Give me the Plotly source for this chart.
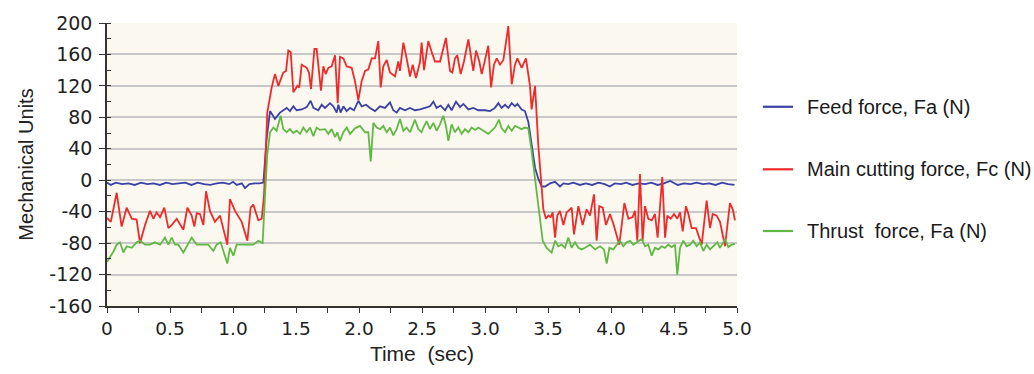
import plotly.graph_objects as go

# Force signals recorded during one cutting pass: (time in s, force in N)
FEED_FORCE = [
    (0.00, -3), (0.03, -6), (0.07, -3), (0.12, -5), (0.17, -4), (0.22, -6), (0.27, -3),
    (0.32, -5), (0.37, -4), (0.42, -6), (0.47, -3), (0.52, -5), (0.57, -4), (0.62, -3),
    (0.67, -6), (0.72, -3), (0.77, -5), (0.82, -6), (0.87, -4), (0.92, -3), (0.97, -5),
    (1.00, -2), (1.03, -6), (1.07, -4), (1.095, -10), (1.13, -5), (1.17, -4), (1.21, -4),
    (1.241, -3), (1.267, 53), (1.294, 88), (1.333, 78), (1.373, 86), (1.426, 92),
    (1.452, 88), (1.479, 94), (1.505, 89), (1.545, 90), (1.585, 93), (1.616, 101),
    (1.638, 92), (1.677, 89), (1.704, 96), (1.730, 92), (1.770, 98), (1.796, 94),
    (1.823, 86), (1.836, 96), (1.854, 86), (1.876, 94), (1.902, 88), (1.929, 92),
    (1.960, 89), (1.995, 101), (2.021, 94), (2.056, 96), (2.087, 92), (2.127, 88),
    (2.167, 94), (2.206, 92), (2.246, 99), (2.272, 89), (2.299, 86), (2.325, 92),
    (2.365, 89), (2.405, 92), (2.444, 89), (2.484, 90), (2.524, 92), (2.563, 94),
    (2.590, 100), (2.616, 92), (2.648, 95), (2.683, 89), (2.709, 96), (2.735, 89),
    (2.770, 100), (2.802, 93), (2.828, 97), (2.868, 90), (2.907, 92), (2.947, 89),
    (3.000, 89), (3.040, 88), (3.079, 92), (3.106, 98), (3.132, 92), (3.159, 96),
    (3.185, 92), (3.212, 98), (3.238, 94), (3.257, 97), (3.291, 90), (3.317, 88),
    (3.344, 74), (3.370, 45), (3.397, 16), (3.423, 2), (3.450, -8), (3.476, -8),
    (3.516, -4), (3.556, -2), (3.595, -8), (3.622, -4), (3.661, -5), (3.701, -3),
    (3.754, -6), (3.80, -4), (3.85, -6), (3.90, -3), (3.95, -5), (3.99, -8), (4.03, -4),
    (4.08, -5), (4.12, -3), (4.17, -6), (4.22, -4), (4.27, -5), (4.32, -3), (4.37, -6),
    (4.42, -4), (4.47, -1), (4.50, -3), (4.53, -6), (4.58, -4), (4.63, -5), (4.68, -3),
    (4.73, -5), (4.78, -4), (4.83, -6), (4.88, -3), (4.93, -5), (4.98, -6),
]

MAIN_CUTTING_FORCE = [
    (0.00, -48), (0.03, -53), (0.077, -16), (0.116, -59), (0.156, -35), (0.196, -49),
    (0.235, -50), (0.262, -80), (0.302, -57), (0.341, -39), (0.368, -49), (0.394, -41),
    (0.421, -47), (0.455, -35), (0.487, -61), (0.513, -57), (0.553, -49), (0.606, -63),
    (0.638, -35), (0.672, -45), (0.693, -59), (0.712, -42), (0.738, -43), (0.765, -57),
    (0.786, -14), (0.817, -39), (0.857, -53), (0.897, -45), (0.955, -82), (0.976, -24),
    (1.016, -39), (1.069, -53), (1.114, -77), (1.140, -35), (1.161, -31), (1.201, -51),
    (1.228, -49), (1.246, -20), (1.272, 86), (1.307, 118), (1.333, 135), (1.360, 120),
    (1.399, 137), (1.421, 139), (1.439, 165), (1.458, 163), (1.479, 112), (1.511, 120),
    (1.526, 118), (1.545, 147), (1.585, 143), (1.603, 137), (1.619, 116), (1.646, 167),
    (1.664, 167), (1.683, 139), (1.698, 114), (1.717, 145), (1.735, 135), (1.757, 143),
    (1.783, 145), (1.810, 159), (1.831, 98), (1.849, 157), (1.876, 155), (1.902, 145),
    (1.942, 143), (1.968, 126), (1.995, 102), (2.021, 126), (2.048, 139), (2.074, 141),
    (2.101, 155), (2.127, 155), (2.153, 177), (2.172, 118), (2.193, 145), (2.220, 153),
    (2.246, 137), (2.286, 132), (2.312, 151), (2.325, 139), (2.352, 175), (2.378, 155),
    (2.405, 132), (2.426, 147), (2.452, 130), (2.484, 150), (2.497, 175), (2.516, 140),
    (2.550, 177), (2.577, 163), (2.603, 151), (2.643, 151), (2.690, 181), (2.722, 139),
    (2.741, 137), (2.762, 155), (2.780, 159), (2.807, 135), (2.833, 151), (2.868, 179),
    (2.894, 149), (2.907, 139), (2.929, 165), (2.955, 151), (2.974, 135), (3.026, 171),
    (3.048, 118), (3.071, 147), (3.093, 155), (3.119, 147), (3.146, 153), (3.185, 196),
    (3.212, 122), (3.238, 147), (3.257, 155), (3.291, 143), (3.325, 155), (3.357, 120),
    (3.370, 90), (3.397, 120), (3.423, 45), (3.463, -37), (3.484, -49), (3.503, -45),
    (3.521, -47), (3.537, -41), (3.556, -73), (3.574, -45), (3.595, -39), (3.622, -57),
    (3.648, -41), (3.688, -35), (3.706, -69), (3.741, -33), (3.775, -57), (3.807, -37),
    (3.833, -45), (3.865, -18), (3.886, -77), (3.907, -33), (3.934, -35), (3.960, -57),
    (3.992, -43), (4.018, -55), (4.066, -82), (4.085, -53), (4.106, -29), (4.138, -49),
    (4.172, -47), (4.190, -39), (4.209, -77), (4.230, 8), (4.251, -77), (4.270, -33),
    (4.296, -49), (4.323, -51), (4.349, -43), (4.370, -73), (4.407, 4), (4.429, -73),
    (4.447, -45), (4.474, -49), (4.500, -43), (4.526, -49), (4.548, -41), (4.569, -65),
    (4.595, -33), (4.614, -43), (4.640, -61), (4.675, -61), (4.720, -82), (4.759, -26),
    (4.786, -61), (4.807, -43), (4.839, -45), (4.865, -53), (4.905, -84), (4.944, -29),
    (4.966, -37), (4.984, -51),
]

THRUST_FORCE = [
    (0.00, -104), (0.05, -91), (0.077, -82), (0.103, -79), (0.13, -92), (0.156, -84),
    (0.196, -86), (0.235, -79), (0.262, -77), (0.302, -82), (0.341, -82), (0.381, -79),
    (0.421, -82), (0.46, -73), (0.487, -82), (0.513, -73), (0.54, -82), (0.566, -82),
    (0.606, -92), (0.638, -82), (0.672, -73), (0.712, -82), (0.765, -82), (0.804, -82),
    (0.844, -90), (0.87, -82), (0.902, -79), (0.929, -92), (0.955, -106), (0.976, -86),
    (1.003, -96), (1.029, -82), (1.069, -82), (1.108, -82), (1.161, -82), (1.201, -77),
    (1.235, -80), (1.254, -20), (1.272, 33), (1.294, 61), (1.320, 67), (1.346, 63),
    (1.378, 82), (1.399, 65), (1.426, 61), (1.452, 65), (1.479, 60), (1.505, 63),
    (1.532, 59), (1.558, 67), (1.585, 61), (1.611, 67), (1.638, 56), (1.664, 67),
    (1.690, 64), (1.730, 65), (1.757, 59), (1.783, 65), (1.810, 55), (1.828, 61),
    (1.849, 50), (1.876, 61), (1.902, 67), (1.929, 59), (1.968, 66), (2.008, 69),
    (2.048, 61), (2.074, 61), (2.093, 24), (2.114, 73), (2.140, 67), (2.167, 65),
    (2.193, 69), (2.220, 61), (2.246, 67), (2.272, 57), (2.299, 65), (2.325, 78),
    (2.352, 63), (2.378, 67), (2.405, 61), (2.444, 77), (2.471, 65), (2.497, 61),
    (2.511, 67), (2.537, 75), (2.563, 65), (2.590, 73), (2.616, 63), (2.643, 71),
    (2.669, 82), (2.690, 69), (2.709, 50), (2.735, 71), (2.762, 61), (2.788, 67),
    (2.815, 59), (2.841, 65), (2.868, 61), (2.894, 67), (2.921, 64), (2.947, 67),
    (2.987, 63), (3.026, 59), (3.053, 63), (3.079, 67), (3.111, 77), (3.132, 66),
    (3.159, 61), (3.185, 69), (3.212, 63), (3.238, 69), (3.265, 67), (3.291, 65),
    (3.317, 67), (3.344, 66), (3.370, 37), (3.397, 0), (3.415, -24), (3.437, -53),
    (3.458, -77), (3.489, -86), (3.529, -92), (3.556, -77), (3.582, -84), (3.608, -82),
    (3.635, -86), (3.661, -73), (3.688, -86), (3.714, -79), (3.741, -86), (3.767, -88),
    (3.794, -86), (3.833, -82), (3.873, -88), (3.913, -84), (3.944, -88), (3.966, -106),
    (3.987, -86), (4.018, -88), (4.050, -82), (4.071, -77), (4.098, -84), (4.124, -79),
    (4.151, -77), (4.177, -82), (4.204, -79), (4.243, -75), (4.270, -84), (4.296, -82),
    (4.323, -96), (4.349, -86), (4.376, -88), (4.402, -84), (4.429, -86), (4.455, -82),
    (4.481, -85), (4.508, -82), (4.526, -120), (4.548, -86), (4.574, -77), (4.601, -84),
    (4.627, -82), (4.653, -77), (4.680, -84), (4.706, -79), (4.733, -90), (4.759, -82),
    (4.786, -88), (4.812, -84), (4.844, -79), (4.865, -86), (4.905, -75), (4.931, -85),
    (4.958, -82), (4.984, -81),
]

SERIES_NAMES = ["Feed force, Fa (N)", "Main cutting force, Fc (N)", "Thrust  force, Fa (N)"]
SERIES_COLORS = ["#3C41A6", "#EE2A2A", "#62B845"]

X_TICKS = [0, 0.5, 1.0, 1.5, 2.0, 2.5, 3.0, 3.5, 4.0, 4.5, 5.0]
X_TICK_TEXT = ["0", "0.5", "1.0", "1.5", "2.0", "2.5", "3.0", "3.5", "4.0", "4.5", "5.0"]
Y_TICKS = [-160, -120, -80, -40, 0, 40, 80, 120, 160, 200]
Y_TICK_TEXT = ["-160", "-120", "-80", "-40", "0", "40", "80", "120", "160", "200"]

LABEL_FONT = "Liberation Sans, Arial, sans-serif"
TICK_FONT = "DejaVu Sans, Verdana, sans-serif"

# Key panel to the right of the plot area (paper coordinates)
KEY_LINE_X = (1.041, 1.089)
KEY_TEXT_X = 1.108
KEY_ROWS_Y = [0.704, 0.483, 0.265]

fig = go.Figure()
for name, color, data in zip(
    SERIES_NAMES, SERIES_COLORS, [FEED_FORCE, MAIN_CUTTING_FORCE, THRUST_FORCE]
):
    t, f = zip(*data)
    fig.add_trace(
        go.Scatter(
            x=list(t), y=list(f), mode="lines", name=name,
            line=dict(color=color, width=1.8),
            showlegend=False,
        )
    )

for name, color, ky in zip(SERIES_NAMES, SERIES_COLORS, KEY_ROWS_Y):
    fig.add_shape(
        type="line", xref="paper", yref="paper",
        x0=KEY_LINE_X[0], x1=KEY_LINE_X[1], y0=ky, y1=ky,
        line=dict(color=color, width=2.2),
    )
    fig.add_annotation(
        xref="paper", yref="paper", x=KEY_TEXT_X, y=ky,
        xanchor="left", yanchor="middle", showarrow=False,
        text=name, font=dict(family=LABEL_FONT, size=20, color="#1a1a1a"),
    )

fig.update_layout(
    width=1034, height=374,
    margin=dict(l=107, r=297, t=16, b=64),
    paper_bgcolor="white",
    plot_bgcolor="#FBF8EF",
    font=dict(family=LABEL_FONT, color="#222222"),
    showlegend=False,
)

fig.update_xaxes(
    range=[0, 5.0],
    tickvals=X_TICKS, ticktext=X_TICK_TEXT,
    ticks="outside", ticklen=5, tickcolor="#333333", tickwidth=1.2,
    minor=dict(dtick=0.25, tick0=0, ticks="outside", ticklen=5, tickcolor="#333333", tickwidth=1.2),
    showline=True, linecolor="#333333", linewidth=1.5,
    showgrid=False, zeroline=False,
    tickfont=dict(family=TICK_FONT, size=18.5, color="#222222"),
    title=dict(text="Time  (sec)", font=dict(family=LABEL_FONT, size=21, color="#222222"), standoff=8),
)

fig.update_yaxes(
    range=[-160, 200],
    tickvals=Y_TICKS, ticktext=Y_TICK_TEXT,
    ticks="outside", ticklen=6, tickcolor="#333333", tickwidth=1.2,
    minor=dict(dtick=20, tick0=0, ticks="inside", ticklen=4, tickcolor="#333333", tickwidth=1.2),
    showline=True, linecolor="#333333", linewidth=1.5,
    showgrid=True, gridcolor="#C8C8C8", gridwidth=1.5,
    zeroline=False,
    tickfont=dict(family=TICK_FONT, size=19, color="#222222"),
    ticklabelstandoff=3,
    title=dict(text="Mechanical Units", font=dict(family=LABEL_FONT, size=20, color="#222222"), standoff=10),
)

fig.write_html("out.html")
